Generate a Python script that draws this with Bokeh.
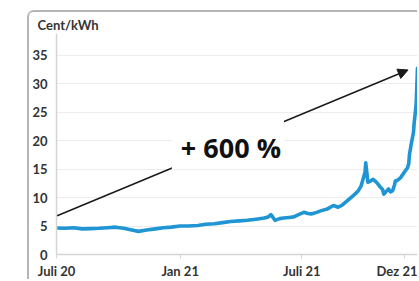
import pandas as pd
from bokeh.plotting import figure
from bokeh.models import FixedTicker, Range1d, Arrow, NormalHead, Label
from bokeh.embed import file_html
from bokeh.resources import INLINE

# --- data ---
dates = ["2020-07-02", "2020-07-13", "2020-07-27", "2020-08-08", "2020-08-21", "2020-09-02",
         "2020-09-15", "2020-09-27", "2020-10-09", "2020-10-21", "2020-10-31", "2020-11-12",
         "2020-11-25", "2020-12-07", "2020-12-19", "2021-01-01", "2021-01-13", "2021-01-27",
         "2021-02-08", "2021-02-21", "2021-03-05", "2021-03-17", "2021-03-30", "2021-04-11",
         "2021-04-24", "2021-05-06", "2021-05-12", "2021-05-16", "2021-05-22", "2021-05-29",
         "2021-06-04", "2021-06-12", "2021-06-19", "2021-06-26", "2021-07-04", "2021-07-10",
         "2021-07-15", "2021-07-23", "2021-07-30", "2021-08-08", "2021-08-17", "2021-08-24",
         "2021-08-29", "2021-09-05", "2021-09-12", "2021-09-18", "2021-09-23", "2021-09-27",
         "2021-09-30", "2021-10-03", "2021-10-04", "2021-10-06", "2021-10-07", "2021-10-10",
         "2021-10-15", "2021-10-18", "2021-10-22", "2021-10-26", "2021-10-29", "2021-10-31",
         "2021-11-03", "2021-11-07", "2021-11-10", "2021-11-13", "2021-11-16", "2021-11-17",
         "2021-11-20", "2021-11-25", "2021-11-29", "2021-12-02", "2021-12-05", "2021-12-07",
         "2021-12-08", "2021-12-11", "2021-12-14", "2021-12-15", "2021-12-18", "2021-12-20",
         "2021-12-21"]
prices = [4.65, 4.6, 4.7, 4.5, 4.55, 4.6,
          4.7, 4.8, 4.6, 4.3, 4.06, 4.3,
          4.5, 4.7, 4.8, 5.0, 5.0, 5.1,
          5.3, 5.4, 5.6, 5.8, 5.9, 6.0,
          6.2, 6.4, 6.6, 7.0, 6.0, 6.3,
          6.4, 6.5, 6.6, 7.0, 7.4, 7.2,
          7.1, 7.4, 7.7, 8.0, 8.6, 8.3,
          8.6, 9.3, 10.0, 10.6, 11.2, 12.0,
          13.2, 14.5, 16.1, 14.0, 12.7, 12.8,
          13.2, 12.9, 12.4, 11.8, 11.4, 10.6,
          11.0, 11.5, 11.0, 11.2, 12.3, 12.9,
          13.0, 13.5, 14.2, 14.7, 15.2, 15.9,
          17.5, 19.6, 21.4, 23.0, 26.3, 32.7,
          30.0]

tick_dates = ["2020-07-01", "2021-01-01", "2021-07-01", "2021-12-01"]
tick_labels = ["Juli 20", "Jan 21", "Juli 21", "Dez 21"]
y_ticks = [0, 5, 10, 15, 20, 25, 30, 35]

x_start, x_end = "2020-07-01", "2021-12-23"
y_start, y_end = 0, 38.8

arrow_from = ("2020-07-02", 6.8)
arrow_to = ("2021-12-06", 32.4)
note_text = "+ 600 %"
note_pos = ("2021-03-13", 19.3)

unit_label = "Cent/kWh"

# --- figure ---
def ms(d):
    return pd.Timestamp(d).value / 1e6

p = figure(width=390, height=269, x_axis_type="datetime",
           output_backend="svg", toolbar_location=None,
           x_range=Range1d(ms(x_start), ms(x_end)), y_range=Range1d(y_start, y_end),
           min_border_left=23, min_border_right=0, min_border_top=21, min_border_bottom=25)
p.margin = (10, 0, 0, 27)
p.styles = {"border-top": "2px solid #b5b5b5", "border-left": "2px solid #b5b5b5",
            "border-top-left-radius": "7px"}
p.outline_line_color = None
p.background_fill_color = "white"
p.border_fill_color = "white"

p.title.text = unit_label
p.title.align = "left"
p.title.offset = -19
p.title.standoff = 2
p.title.text_font = "Lato"
p.title.text_font_size = "13px"
p.title.text_font_style = "bold"
p.title.text_color = "#333333"

axis_color = "#d4d4d4"
p.xgrid.visible = False
p.ygrid.grid_line_color = "#ededed"
p.ygrid.ticker = FixedTicker(ticks=y_ticks)

p.yaxis.ticker = FixedTicker(ticks=y_ticks)
p.yaxis.axis_line_color = axis_color
p.yaxis.axis_line_width = 1.5
p.yaxis.major_tick_line_color = None
p.yaxis.minor_tick_line_color = None
p.yaxis.major_label_standoff = 3
p.yaxis.major_label_text_font = "Lato"
p.yaxis.major_label_text_font_size = "13px"
p.yaxis.major_label_text_font_style = "bold"
p.yaxis.major_label_text_color = "#333333"

tick_ms = [ms(d) for d in tick_dates]
p.xaxis.ticker = FixedTicker(ticks=tick_ms)
p.xaxis.major_label_overrides = {t: l for t, l in zip(tick_ms, tick_labels)}
p.xaxis.axis_line_color = axis_color
p.xaxis.axis_line_width = 1.5
p.xaxis.major_tick_line_color = axis_color
p.xaxis.major_tick_in = 0
p.xaxis.major_tick_out = 4
p.xaxis.minor_tick_line_color = None
p.xaxis.major_label_standoff = 4
p.xaxis.major_label_text_font = "Lato"
p.xaxis.major_label_text_font_size = "13px"
p.xaxis.major_label_text_font_style = "bold"
p.xaxis.major_label_text_color = "#333333"

# price line
p.line([pd.Timestamp(d) for d in dates], prices, line_color="#1f95d4", line_width=3.6,
       line_join="round")

# growth arrow + note
p.add_layout(Arrow(end=NormalHead(size=10, fill_color="#1a1a1a", line_color="#1a1a1a"),
                   x_start=ms(arrow_from[0]), y_start=arrow_from[1],
                   x_end=ms(arrow_to[0]), y_end=arrow_to[1],
                   line_color="#1a1a1a", line_width=1.5))
p.add_layout(Label(x=ms(note_pos[0]), y=note_pos[1], text=note_text,
                   text_align="center", text_baseline="middle",
                   text_font="Open Sans", text_font_style="bold", text_font_size="27px",
                   text_color="#111111", background_fill_color="white",
                   padding=(9, 3, 9, 3)))

open("out.html", "w").write(file_html(p, INLINE))
